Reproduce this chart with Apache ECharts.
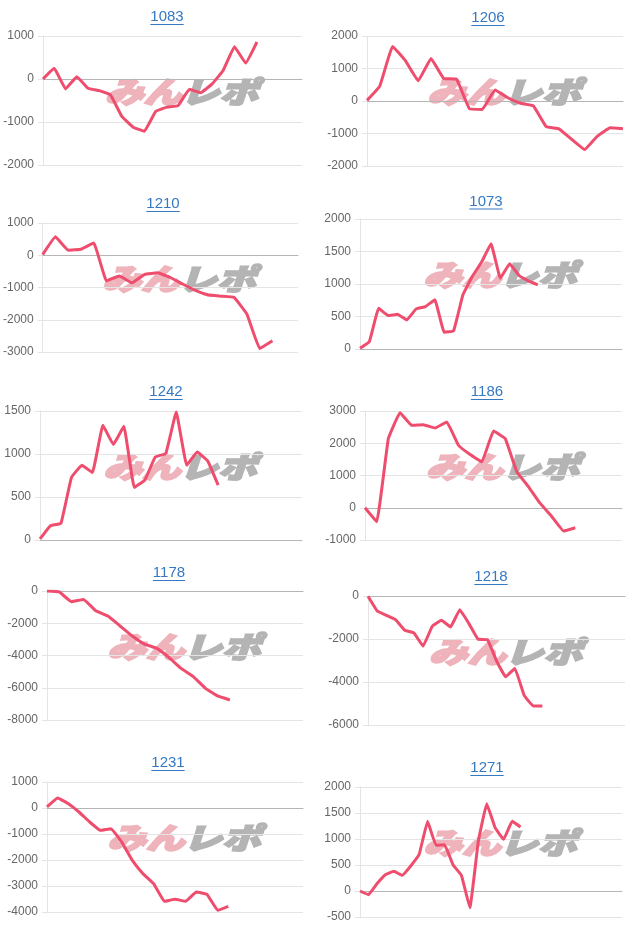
<!DOCTYPE html>
<html>
<head>
<meta charset="utf-8">
<script src="https://cdn.jsdelivr.net/npm/echarts@6/dist/echarts.min.js"></script>
<style>
html,body{margin:0;padding:0;background:#fff;}
#chart{width:640px;height:931px;}
</style>
</head>
<body>
<div id="chart"></div>
<script>
// ---- data ----
const titles = ['1083','1206','1210','1073','1242','1186','1178','1218','1231','1271'];
const categoryCounts = [24, 21, 21, 29, 26, 23, 22, 29, 25, 32];

const values1083 = [0, 250, -230, 50, -215, -270, -370, -870, -1120, -1215, -755, -655, -620, -240, -320, -120, 200, 750, 370, 860];
const values1206 = [20, 460, 1680, 1240, 620, 1310, 690, 670, -240, -260, 340, 100, -70, -150, -790, -855, -1185, -1495, -1080, -825, -855];
const values1210 = [20, 570, 155, 185, 380, -795, -640, -855, -590, -545, -690, -900, -1100, -1235, -1270, -1310, -1825, -2890, -2650];
const values1073 = [10, 113, 627, 514, 535, 447, 617, 653, 756, 257, 278, 833, 1116, 1337, 1620, 1090, 1311, 1131, 1049, 987];
const values1242 = [12, 166, 193, 727, 870, 785, 1334, 1110, 1322, 611, 696, 966, 1005, 1488, 870, 1024, 920, 638];
const values1186 = [0, -433, 2144, 2948, 2557, 2577, 2474, 2660, 1938, 1650, 1423, 2381, 2144, 1113, 650, 134, -278, -722, -619];
const values1178 = [0, -60, -660, -520, -1220, -1550, -2170, -2790, -3290, -3555, -4115, -4800, -5310, -6035, -6510, -6760];
const values1218 = [-15, -695, -897, -1098, -1593, -1716, -2335, -1407, -1128, -1438, -634, -1283, -2010, -2025, -3015, -3757, -3370, -4607, -5117, -5117];
const values1231 = [40, 385, 167, -154, -538, -859, -795, -1308, -2013, -2526, -2910, -3590, -3513, -3590, -3231, -3321, -3936, -3782];
const values1271 = [0, -70, 141, 314, 378, 301, 481, 705, 1340, 878, 891, 506, 301, -321, 955, 1679, 1212, 994, 1340, 1231];

const seriesValues = [values1083, values1206, values1210, values1073, values1242, values1186, values1178, values1218, values1231, values1271];

// y-axis tick settings
const yMins = [-2000, -2000, -3000, 0, 0, -1000, -8000, -6000, -4000, -500];
const yMaxs = [1000, 2000, 1000, 2000, 1500, 3000, 0, 0, 1000, 2000];
const yIntervals = [1000, 1000, 1000, 500, 500, 1000, 2000, 2000, 1000, 500];

// ---- layout ----
const grids = [
  {left: 43, top: 36, width: 259, height: 129},
  {left: 367, top: 36, width: 256, height: 130},
  {left: 42, top: 223, width: 256, height: 129},
  {left: 360, top: 219, width: 262, height: 130},
  {left: 40, top: 411, width: 262, height: 129},
  {left: 365, top: 411, width: 257, height: 129},
  {left: 47, top: 591, width: 256, height: 129},
  {left: 368, top: 596, width: 257, height: 129},
  {left: 47, top: 782, width: 256, height: 130},
  {left: 360, top: 787, width: 262, height: 130}
];
const titlePos = [[167,17],[488,18],[163,204],[486,201.5],[166,392],[487,392],[169,573],[491,577],[168,763],[487,768]];

const LINE = '#ef4d6d';
const TITLE = '#3479c2';
const FONT = 'Arial, "Liberation Sans", sans-serif';

const chart = echarts.init(document.getElementById('chart'), null, {renderer: 'canvas'});

const measure = (txt, font) => {
  const c = document.createElement('canvas').getContext('2d');
  c.font = font; return c.measureText(txt).width;
};

const WM_FONT = 'italic 900 31px "Noto Sans CJK JP"';
const xAxes = [], yAxes = [], series = [], graphics = [];
grids.forEach((g, i) => {
  const cats = Array.from({length: categoryCounts[i]}, (_, k) => String(k + 1));
  xAxes.push({
    type: 'category', gridIndex: i, data: cats, boundaryGap: false,
    axisLabel: {show: false}, axisTick: {show: false}, splitLine: {show: false},
    axisLine: {show: true, onZero: true, lineStyle: {color: '#b5b5b5', width: 1}}
  });
  yAxes.push({
    type: 'value', gridIndex: i, min: yMins[i], max: yMaxs[i], interval: yIntervals[i],
    axisLine: {show: true, lineStyle: {color: '#e4e4e4'}},
    axisTick: {show: true, length: 5, lineStyle: {color: '#e4e4e4'}},
    splitLine: {show: true, lineStyle: {color: '#e4e4e4'}},
    axisLabel: {color: '#666', fontSize: 12, fontFamily: FONT, margin: 9, formatter: v => String(v)}
  });
  series.push({
    type: 'line', xAxisIndex: i, yAxisIndex: i, data: seriesValues[i],
    showSymbol: false, symbol: 'none', smooth: 0.08,
    lineStyle: {color: LINE, width: 3}, z: 5
  });
  // title with underline
  const [tx, ty] = titlePos[i];
  const tw = measure(titles[i], '15px Arial');
  graphics.push({
    type: 'text', x: tx, y: ty, z: 10,
    style: {text: titles[i], fill: TITLE, font: '15px ' + FONT, textAlign: 'center', textVerticalAlign: 'middle'}
  });
  graphics.push({
    type: 'line', x: 0, y: 0, z: 10, silent: true,
    shape: {x1: tx - tw / 2, y1: ty + 7.5, x2: tx + tw / 2, y2: ty + 7.5},
    style: {stroke: TITLE, lineWidth: 1}
  });
  // watermark
  const cx = g.left + g.width / 2 + 9;
  const cy = g.top + g.height / 2 - 9;
  graphics.push({
    type: 'group', x: cx, y: cy, z: 0, silent: true,
    children: [
      {type: 'text', x: -38, y: 0, scaleX: 1.25, scaleY: 0.95,
       style: {text: 'みん', fill: '#eeb3bb', stroke: '#eeb3bb', lineWidth: 2,
               font: WM_FONT, textAlign: 'center', textVerticalAlign: 'middle'}},
      {type: 'text', x: 38, y: 0, scaleX: 1.25, scaleY: 0.95,
       style: {text: 'レポ', fill: '#b4b4b4', stroke: '#b4b4b4', lineWidth: 2,
               font: WM_FONT, textAlign: 'center', textVerticalAlign: 'middle'}}
    ]
  });
});

chart.setOption({
  animation: false,
  backgroundColor: '#fff',
  grid: grids.map(g => Object.assign({containLabel: false}, g)),
  xAxis: xAxes,
  yAxis: yAxes,
  series: series,
  graphic: graphics
});
</script>
</body>
</html>
